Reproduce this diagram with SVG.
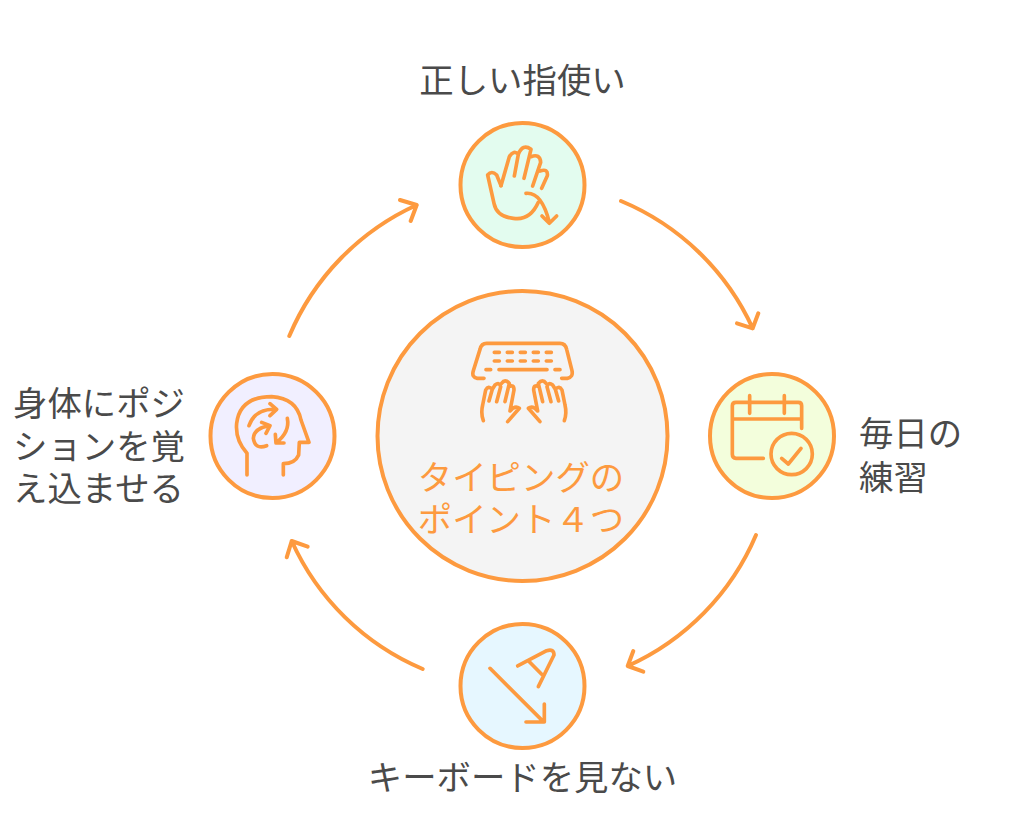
<svg xmlns="http://www.w3.org/2000/svg" width="1024" height="837" viewBox="0 0 1024 837">
<style>
.c{stroke:#fd9a3f;stroke-width:4;}
.i{fill:none;stroke:#fd9a3f;stroke-width:11;stroke-linecap:round;stroke-linejoin:round;}
.a{fill:none;stroke:#fd9a3f;stroke-width:4;stroke-linecap:round;stroke-linejoin:round;}
text{font-family:"Noto Sans CJK JP","Noto Sans",sans-serif;font-size:34.4px;fill:#4a4a4a;}
.o{fill:#fd9a3f;}
</style>
<rect width="1024" height="837" fill="#ffffff"/>
<g id="connectors">
<path class="a" d="M621 201A251 251 0 0 1 752.700 328.300M737 323.300L752.700 328.300L758.300 313.300"/>
<path class="a" d="M756 535A251 251 0 0 1 627.700 666M633.300 651L627.700 666L643.300 671.700"/>
<path class="a" d="M422.700 669A251 251 0 0 1 291.700 541M286.700 557.300L291.700 541L307.700 546.700"/>
<path class="a" d="M289.300 336A251 251 0 0 1 416.700 205M400 200L416.700 205L410.700 221"/>
</g>
<g id="center">
<circle class="c" cx="522.500" cy="436" r="145" fill="#f4f4f4"/>
<g transform="translate(460 330) scale(0.3333)">
<path class="i" d="M72 145H52Q34 142 40 122L60 58Q64 40 80 40H300Q316 40 320 58L336 122Q340 142 322 145H305"/>
<path class="i" d="M103 67H118M142 67H157M181 67H196M220 67H235M259 67H274M103 93H118M142 93H157M181 93H196M220 93H235M259 93H274M78 119H92M117 119H261M285 119H300"/>
<path id="hand-l" class="i" d="M70 272Q62 250 68 225L77 180Q85 165 97 178L87 213M97 178L105 165Q118 155 122 170L110 215M125 160Q135 145 148 160L135 215M146 170Q162 162 162 180L150 243Q165 225 178 235L143 275"/>
<path class="i" transform="matrix(-1 0 0 1 383 0)" d="M70 272Q62 250 68 225L77 180Q85 165 97 178L87 213M97 178L105 165Q118 155 122 170L110 215M125 160Q135 145 148 160L135 215M146 170Q162 162 162 180L150 243Q165 225 178 235L143 275"/>
</g>
<text class="o" x="521" y="489.500" text-anchor="middle">タイピングの</text>
<text class="o" x="521" y="532" text-anchor="middle">ポイント４つ</text>
</g>
<g id="node-top">
<circle class="c" cx="522.500" cy="185" r="62" fill="#e3fcef"/>
<g transform="translate(450 115) scale(0.3333)">
<path class="i" d="M153 212L140 180Q125 165 113 180L132 265Q140 305 190 310Q240 318 265 262"/>
<path class="i" d="M153 212L178 125Q192 103 205 118L193 183M205 118Q218 85 243 103L222 190M243 125Q270 115 272 142L248 213M270 168Q295 160 292 182L275 220"/>
<path class="i" d="M228 235Q275 230 298 322M276 303L298 325L320 303"/>
</g>
<text x="522.500" y="93" text-anchor="middle">正しい指使い</text>
</g>
<g id="node-right">
<circle class="c" cx="772" cy="436" r="62" fill="#f3fedc"/>
<g transform="translate(700 365) scale(0.3333)">
<path class="i" d="M190 280H108Q97 280 97 268V122Q97 112 108 112H295Q305 112 305 122V190M97 162H305M149 92V145M253 92V145"/>
<circle class="i" cx="275" cy="267" r="62"/>
<path class="i" d="M245 280L265 297L303 250"/>
</g>
<text x="859" y="446">毎日の</text>
<text x="859" y="490">練習</text>
</g>
<g id="node-bottom">
<circle class="c" cx="522.500" cy="686" r="62" fill="#e6f7ff"/>
<g transform="translate(450 615) scale(0.3333)">
<path class="i" d="M120 160L280 320M228 321H283V267"/>
<path class="i" d="M203 153L290 107Q312 100 312 120L265 215M235 137L275 178"/>
</g>
<text x="522.500" y="790" text-anchor="middle">キーボードを見ない</text>
</g>
<g id="node-left">
<circle class="c" cx="272.500" cy="436" r="62" fill="#f1efff"/>
<g transform="translate(200 365) scale(0.3333)">
<path class="i" d="M141 330V265Q105 225 110 175Q120 95 215 95Q290 100 303 165L327 232H298L296 270Q285 296 250 296V330"/>
<path class="i" d="M147 182Q165 130 228 133M210 116L230 133L210 152"/>
<path class="i" d="M262 160Q270 200 230 232M226 208L228 234L252 234"/>
<path class="i" d="M200 242Q165 255 160 220Q162 190 208 182M185 172L210 182L198 205"/>
</g>
<text x="13" y="416">身体にポジ</text>
<text x="13" y="459">ションを覚</text>
<text x="13" y="501">え込ませる</text>
</g>
</svg>
